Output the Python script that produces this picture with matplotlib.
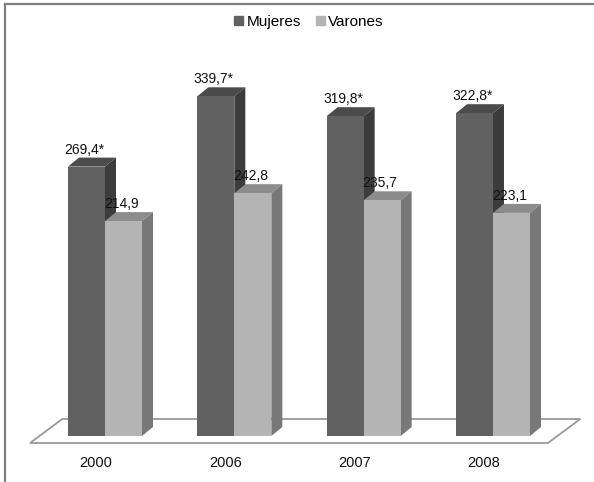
import matplotlib
matplotlib.use("Agg")
import matplotlib.pyplot as plt
from matplotlib.patches import Polygon, Patch
from matplotlib.lines import Line2D

# datos
years = ['2000', '2006', '2007', '2008']
mujeres = [269.4, 339.7, 319.8, 322.8]
varones = [214.9, 242.8, 235.7, 223.1]
mujeres_lbl = ['269,4*', '339,7*', '319,8*', '322,8*']
varones_lbl = ['214,9', '242,8', '235,7', '223,1']

plt.rcParams['font.family'] = ['Liberation Sans', 'DejaVu Sans']

col_muj = {'front': '#616161', 'top': '#4b4b4b', 'side': '#3c3c3c'}
col_var = {'front': '#b4b4b4', 'top': '#8c8c8c', 'side': '#787878'}

fig = plt.figure(figsize=(5.94, 4.82), dpi=100)
ax = fig.add_axes([0, 0, 1, 1])
ax.set_xlim(-105 / 129.33, 489 / 129.33)
ax.set_ylim(-46, 436)
ax.axis('off')

# pixel -> data scale
sx = ax.bbox.width / (ax.get_xlim()[1] - ax.get_xlim()[0])
sy = ax.bbox.height / (ax.get_ylim()[1] - ax.get_ylim()[0])
ddx = 11 / sx   # depth of the 3d effect
ddy = 9 / sy
w = 37 / sx

x = list(range(len(years)))

# floor
fx0, fx1 = -0.58, 3.425
floor = Polygon([(fx0, -7 / sy), (fx1, -7 / sy), (fx1 + 0.25, 17 / sy), (fx0 + 0.25, 17 / sy)],
                closed=True, facecolor='white', edgecolor='#9a9a9a', lw=1.3, zorder=1)
ax.add_patch(floor)


def bar3d(xc, h, cols, z):
    l, r = xc - w / 2, xc + w / 2
    top = Polygon([(l, h), (r, h), (r + ddx, h + ddy), (l + ddx, h + ddy)],
                  closed=True, facecolor=cols['top'], lw=0, zorder=z)
    side = Polygon([(r, 0), (r + ddx, ddy), (r + ddx, h + ddy), (r, h)],
                   closed=True, facecolor=cols['side'], lw=0, zorder=z)
    ax.add_patch(top)
    ax.add_patch(side)
    ax.bar(xc, h, w, color=cols['front'], lw=0, zorder=z + 0.5)


for i in x:
    bar3d(i - w / 2, mujeres[i], col_muj, 2)
    bar3d(i + w / 2, varones[i], col_var, 3)
    ax.text(i - w / 2 - 2 / sx, mujeres[i] + 13 / sy, mujeres_lbl[i], ha='center', va='baseline',
            fontsize=10, color='#111111', zorder=5)
    ax.text(i + w / 2 - 2 / sx, varones[i] + 13 / sy, varones_lbl[i], ha='center', va='baseline',
            fontsize=10, color='#111111', zorder=5)
    ax.text(i - 9 / sx, -31 / sy, years[i], ha='center', va='baseline',
            fontsize=10.5, color='#111111')

# legend
handles = [Patch(color=col_muj['front'], label='Mujeres'),
           Patch(color=col_var['front'], label='Varones')]
fig.legend(handles=handles, loc='center', bbox_to_anchor=(309 / 594, 1 - 22 / 482), ncol=2,
           frameon=False, fontsize=11, handlelength=0.6, handleheight=0.6,
           handletextpad=0.2, columnspacing=1.0)

# outer frame (only top and left visible)
fig.add_artist(Line2D([5 / 594, 1], [1 - 4 / 482, 1 - 4 / 482], color='#7f7f7f', lw=1.6))
fig.add_artist(Line2D([5 / 594, 5 / 594], [0, 1 - 4 / 482], color='#7f7f7f', lw=1.6))

fig.savefig('out.png', dpi=100, facecolor='white')
